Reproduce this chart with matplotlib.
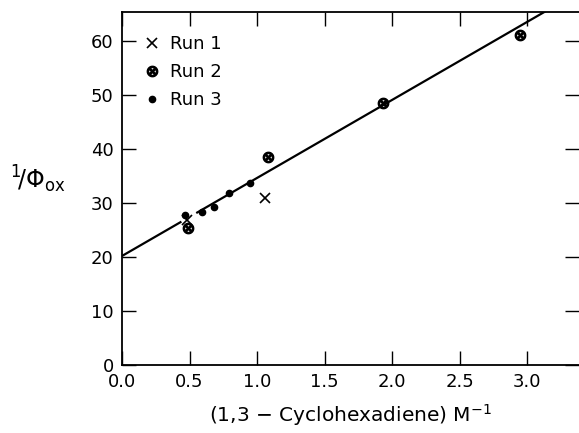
import matplotlib
matplotlib.use("Agg")
import matplotlib.pyplot as plt
import numpy as np

# Data
run1_x = [0.48, 1.06]
run1_y = [26.8, 30.9]
run2_x = [0.49, 1.08, 1.93, 2.95]
run2_y = [25.4, 38.6, 48.5, 61.2]
run3_x = [0.47, 0.59, 0.68, 0.79, 0.95]
run3_y = [27.8, 28.3, 29.3, 31.8, 33.7]
fit_intercept = 20.2
fit_slope = 14.45
line_seg1 = [0.0, 0.44]
line_seg2 = [0.55, 3.4]

xticks = [0.0, 0.5, 1.0, 1.5, 2.0, 2.5, 3.0]
xticklabels = ["0.0", "0.5", "1.0", "1.5", "2.0", "2.5", "3.0"]
yticks = [0, 10, 20, 30, 40, 50, 60]

plt.rcParams['font.family'] = ['DejaVu Sans']
fig = plt.figure(figsize=(5.79, 4.33), dpi=100)
ax = fig.add_axes([122/579, 1-365/433, 1-122/579, (365-12)/433])

for seg in (line_seg1, line_seg2):
    xs = np.array(seg)
    ax.plot(xs, fit_intercept + fit_slope * xs, color='black', lw=1.6, solid_capstyle='butt')

ax.plot(run1_x, run1_y, linestyle='none', marker='x', color='black', ms=7, mew=1.2, label='Run 1')
ax.plot(run2_x, run2_y, linestyle='none', marker=r'$\otimes$', color='black', ms=7.5, label='Run 2')
ax.plot(run3_x, run3_y, linestyle='none', marker='o', color='black', ms=4.5, label='Run 3')

ax.set_xlim(0, 3.385)
ax.set_ylim(0, 65.4)
ax.set_xticks(xticks)
ax.set_xticklabels(xticklabels)
ax.set_yticks(yticks)

ax.spines['right'].set_visible(False)
for s in ('left', 'bottom', 'top'):
    ax.spines[s].set_linewidth(1.3)

ax.tick_params(direction='in', length=10, width=1.0, top=True, right=True,
               labelsize=13, pad=6)

ax.set_xlabel(r'(1,3 $-$ Cyclohexadiene) M$^{-1}$', fontsize=14.5, labelpad=8)
fig.text(0.018, 0.585, r'$^{1}\!/\Phi_{\rm ox}$', fontsize=17, ha='left', va='center')

leg = ax.legend(loc='upper left', bbox_to_anchor=(0.035, 0.955), frameon=False,
                fontsize=13, handlelength=0.8, handletextpad=0.6, labelspacing=0.55,
                borderaxespad=0)

fig.savefig('out.png', dpi=100)
